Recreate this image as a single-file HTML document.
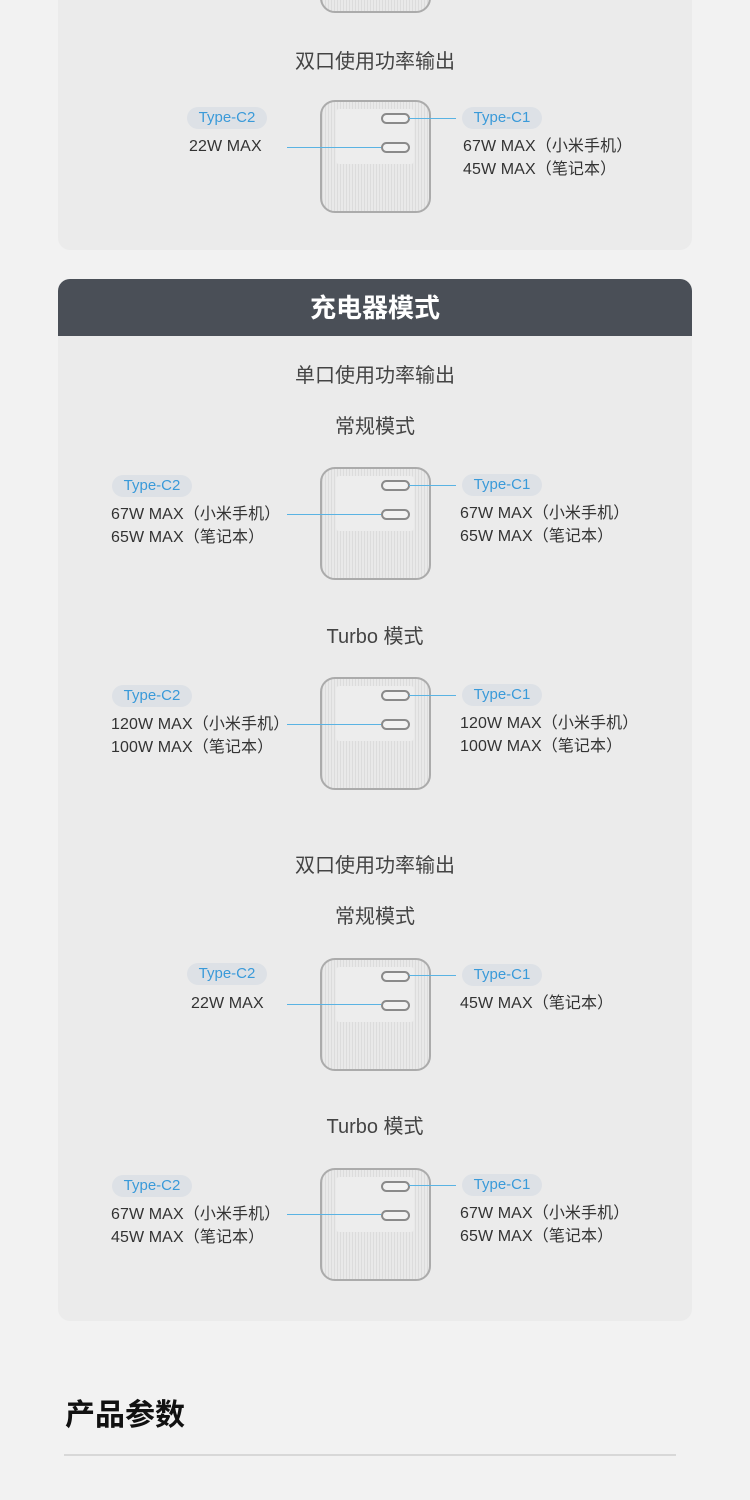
<!DOCTYPE html>
<html><head><meta charset="utf-8"><style>
*{margin:0;padding:0;box-sizing:border-box}
body{width:750px;height:1500px;background:#f2f2f2;position:relative;overflow:hidden;font-family:"Liberation Sans","Noto Sans CJK SC",sans-serif;color:#333}
.a{position:absolute}
.card{position:absolute;left:58px;width:634px;background:#ebebeb;border-radius:12px}
.t{position:absolute;left:0;width:750px;text-align:center;font-size:20px;line-height:28px;color:#444}
.dev{position:absolute;left:320px;width:111px;height:113px;border:2px solid #ababab;border-radius:15px;background:repeating-linear-gradient(90deg,#dcdcdc 0 1px,#e9e9e9 1px 3px)}
.win{position:absolute;left:14px;top:7px;width:78px;height:55px;background:#ededed;border-radius:3px}
.p{position:absolute;left:59px;width:29px;height:11px;border:2px solid #8a8a8a;border-radius:6px;background:#f2f2f2}
.pill{position:absolute;width:80px;height:22px;border-radius:11px;background:#dde1e6;color:#3a9ad9;font-size:15px;line-height:22px;text-align:center}
.ln{position:absolute;height:1px;background:#5ab3e3}
.x{position:absolute;font-size:16px;line-height:20px;color:#333;white-space:nowrap;letter-spacing:0.1px}
</style></head><body>

<div class="card" style="top:-20px;height:270px"></div>
<div class="card" style="top:279px;height:1042px;overflow:hidden"><div style="height:57px;background:#4a4f57"></div></div>
<div class="t" style="top:292px;font-size:26px;line-height:32px;color:#fff;font-weight:bold">充电器模式</div>

<div class="dev" style="top:-100px"><div class="win"></div></div>

<div class="t" style="top:48px">双口使用功率输出</div>
<div class="dev" style="top:100px"><div class="win"></div><div class="p" style="top:11px"></div><div class="p" style="top:40px"></div></div>
<div class="pill" style="left:187px;top:107px">Type-C2</div>
<div class="pill" style="left:462px;top:107px">Type-C1</div>
<div class="ln" style="left:287px;width:94px;top:147px"></div>
<div class="ln" style="left:409px;width:47px;top:118px"></div>
<div class="x" style="left:189px;top:137px">22W MAX</div>
<div class="x" style="left:463px;top:137px">67W MAX（小米手机）</div>
<div class="x" style="left:463px;top:160px">45W MAX（笔记本）</div>

<div class="t" style="top:362px">单口使用功率输出</div>
<div class="t" style="top:413px">常规模式</div>
<div class="dev" style="top:467px"><div class="win"></div><div class="p" style="top:11px"></div><div class="p" style="top:40px"></div></div>
<div class="pill" style="left:112px;top:475px">Type-C2</div>
<div class="pill" style="left:462px;top:474px">Type-C1</div>
<div class="ln" style="left:287px;width:94px;top:514px"></div>
<div class="ln" style="left:409px;width:47px;top:485px"></div>
<div class="x" style="left:111px;top:505px">67W MAX（小米手机）</div>
<div class="x" style="left:111px;top:528px">65W MAX（笔记本）</div>
<div class="x" style="left:460px;top:504px">67W MAX（小米手机）</div>
<div class="x" style="left:460px;top:527px">65W MAX（笔记本）</div>

<div class="t" style="top:623px">Turbo 模式</div>
<div class="dev" style="top:677px"><div class="win"></div><div class="p" style="top:11px"></div><div class="p" style="top:40px"></div></div>
<div class="pill" style="left:112px;top:685px">Type-C2</div>
<div class="pill" style="left:462px;top:684px">Type-C1</div>
<div class="ln" style="left:287px;width:94px;top:724px"></div>
<div class="ln" style="left:409px;width:47px;top:695px"></div>
<div class="x" style="left:111px;top:715px">120W MAX（小米手机）</div>
<div class="x" style="left:111px;top:738px">100W MAX（笔记本）</div>
<div class="x" style="left:460px;top:714px">120W MAX（小米手机）</div>
<div class="x" style="left:460px;top:737px">100W MAX（笔记本）</div>

<div class="t" style="top:852px">双口使用功率输出</div>
<div class="t" style="top:903px">常规模式</div>
<div class="dev" style="top:958px"><div class="win"></div><div class="p" style="top:11px"></div><div class="p" style="top:40px"></div></div>
<div class="pill" style="left:187px;top:963px">Type-C2</div>
<div class="pill" style="left:462px;top:964px">Type-C1</div>
<div class="ln" style="left:287px;width:94px;top:1004px"></div>
<div class="ln" style="left:409px;width:47px;top:975px"></div>
<div class="x" style="left:191px;top:994px">22W MAX</div>
<div class="x" style="left:460px;top:994px">45W MAX（笔记本）</div>

<div class="t" style="top:1113px">Turbo 模式</div>
<div class="dev" style="top:1168px"><div class="win"></div><div class="p" style="top:11px"></div><div class="p" style="top:40px"></div></div>
<div class="pill" style="left:112px;top:1175px">Type-C2</div>
<div class="pill" style="left:462px;top:1174px">Type-C1</div>
<div class="ln" style="left:287px;width:94px;top:1214px"></div>
<div class="ln" style="left:409px;width:47px;top:1185px"></div>
<div class="x" style="left:111px;top:1205px">67W MAX（小米手机）</div>
<div class="x" style="left:111px;top:1228px">45W MAX（笔记本）</div>
<div class="x" style="left:460px;top:1204px">67W MAX（小米手机）</div>
<div class="x" style="left:460px;top:1227px">65W MAX（笔记本）</div>

<div class="a" style="left:65px;top:1398px;font-size:30px;line-height:36px;font-weight:bold;color:#111">产品参数</div>
<div class="a" style="left:64px;top:1454px;width:612px;height:2px;background:#d8d8d8"></div>
</body></html>
